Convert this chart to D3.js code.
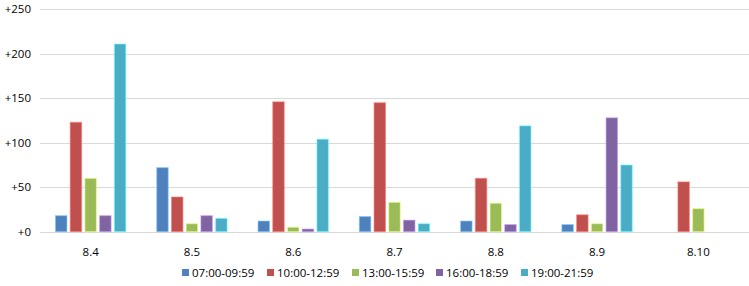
<!DOCTYPE html>
<html>
<head>
    <meta charset="utf-8"/>
    <script src="https://d3js.org/d3.v7.min.js"></script>
    <style>
        body { margin: 0; background: #fff; }
        text { font-family: "Open Sans", "Liberation Sans", sans-serif; fill: #000; }
    </style>
</head>
<body>
<svg width="749" height="286"></svg>
<script>
    // datos
    const days = ["8.4", "8.5", "8.6", "8.7", "8.8", "8.9", "8.10"];
    const slots = ["07:00-09:59", "10:00-12:59", "13:00-15:59", "16:00-18:59", "19:00-21:59"];
    const colors = ["#4F81BD", "#C0504D", "#9BBB59", "#8064A2", "#4BACC6"];
    const s0700 = [18, 72, 12, 17, 12, 8, 0];
    const s1000 = [123, 39, 146, 145, 60, 19, 56];
    const s1300 = [60, 9, 5, 33, 32, 9, 26];
    const s1600 = [18, 18, 3, 13, 8, 128, 0];
    const s1900 = [211, 15, 104, 9, 119, 75, 0];
    const yTicks = [0, 50, 100, 150, 200, 250];

    const series = [s0700, s1000, s1300, s1600, s1900];

    // márgenes del área del gráfico
    const mLeft = 40, mRight = 749, mTop = 9.3, mBottom = 231.7;

    const svg = d3.select("svg");

    let x0 = d3.scaleBand().domain(days).range([mLeft, mRight]).paddingInner(0).paddingOuter(0);
    let x1 = d3.scaleBand().domain(slots).range([0, x0.bandwidth()])
        .paddingInner(0.22).paddingOuter(1.05);
    let y = d3.scaleLinear().domain([0, 250]).range([mBottom, mTop]);

    // grilla
    svg.append("g")
        .selectAll("line")
        .data(yTicks)
        .join("line")
        .attr("x1", mLeft).attr("x2", mRight)
        .attr("y1", d => Math.round(y(d)) + 0.5)
        .attr("y2", d => Math.round(y(d)) + 0.5)
        .attr("stroke", "#d9d9d9")
        .attr("stroke-width", 1);

    // eje y
    let yAxis = d3.axisLeft(y).tickValues(yTicks).tickSize(0).tickPadding(0)
        .tickFormat(d => "+" + d);
    svg.append("g")
        .attr("transform", "translate(31,0)")
        .call(yAxis)
        .call(g => g.select(".domain").remove())
        .selectAll("text")
        .style("font-size", "11.5px")
        .style("font-family", "'Open Sans', sans-serif");

    // eje x
    let xAxis = d3.axisBottom(x0).tickSize(0).tickPadding(0);
    svg.append("g")
        .attr("transform", "translate(0,248)")
        .call(xAxis)
        .call(g => g.select(".domain").remove())
        .selectAll("text")
        .style("font-size", "11.5px")
        .style("font-family", "'Open Sans', sans-serif");

    // barras
    const groups = svg.append("g")
        .selectAll("g")
        .data(days)
        .join("g")
        .attr("transform", d => "translate(" + x0(d) + ",0)");

    groups.selectAll("rect")
        .data((d, i) => series.map((s, k) => ({slot: slots[k], v: s[i], c: colors[k]})).filter(e => e.v > 0))
        .join("rect")
        .attr("x", d => x1(d.slot))
        .attr("width", x1.bandwidth())
        .attr("y", d => y(d.v))
        .attr("height", d => mBottom - y(d.v))
        .attr("fill", d => d.c)
        .attr("stroke", d => d3.color(d.c).brighter(1.2))
        .attr("stroke-opacity", 0.6)
        .attr("stroke-width", 1);

    // leyenda
    const legendX = [182, 267, 352, 436, 521];
    const legend = svg.append("g")
        .selectAll("g")
        .data(slots)
        .join("g")
        .attr("transform", (d, i) => "translate(" + legendX[i] + ",269)");
    legend.append("rect")
        .attr("width", 7).attr("height", 7)
        .attr("fill", (d, i) => colors[i]);
    legend.append("text")
        .attr("x", 10).attr("y", 7.5)
        .style("font-size", "11.5px")
        .text(d => d);
</script>
</body>
</html>
